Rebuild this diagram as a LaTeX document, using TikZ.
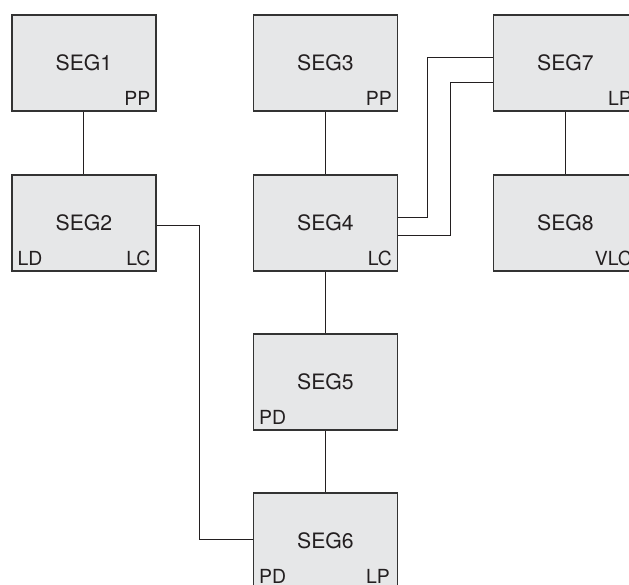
\documentclass[tikz,border=0pt]{standalone}
\usepackage{fontspec}
\setmainfont{TeX Gyre Heros}
\usetikzlibrary{calc}
\definecolor{boxfill}{HTML}{E6E7E8}
\definecolor{boxline}{HTML}{333333}
\definecolor{ink}{HTML}{231F20}
\tikzset{
  seg/.style={draw=boxline, line width=0.75pt, fill=boxfill, rectangle, inner sep=0pt,
    minimum width=72pt, minimum height=48pt, font=\fontsize{10.6}{12}\selectfont, text=ink},
  lbl/.style={inner sep=0pt, font=\fontsize{9.7}{11}\selectfont, text=ink},
  wire/.style={draw=ink, line width=0.5pt}
}
\begin{document}
\begin{tikzpicture}[x=0.5pt, y=-0.5pt]
\useasboundingbox (0,0) rectangle (629,585);
\clip (0,0) rectangle (629,585);
\node[seg] (s1) at (84,63) {SEG1};
\node[seg] (s2) at (84,223) {SEG2};
\node[seg] (s3) at (325.5,63) {SEG3};
\node[seg] (s4) at (325.5,223) {SEG4};
\node[seg] (s5) at (325.5,382) {SEG5};
\node[seg] (s6) at (325.5,541) {SEG6};
\node[seg] (s7) at (565.5,63) {SEG7};
\node[seg] (s8) at (565.5,223) {SEG8};
% corner labels
\node[lbl, anchor=base east] (s1pp) at ([shift={(-6,-6)}]s1.south east) {PP};
\node[lbl, anchor=base west] (s2ld) at ([shift={(6,-6)}]s2.south west) {LD};
\node[lbl, anchor=base east] (s2lc) at ([shift={(-6,-6)}]s2.south east) {LC};
\node[lbl, anchor=base east] (s3pp) at ([shift={(-6,-6)}]s3.south east) {PP};
\node[lbl, anchor=base east] (s4lc) at ([shift={(-6,-6)}]s4.south east) {LC};
\node[lbl, anchor=base west] (s5pd) at ([shift={(6,-6)}]s5.south west) {PD};
\node[lbl, anchor=base west] (s6pd) at ([shift={(6,-6)}]s6.south west) {PD};
\node[lbl, anchor=base east] (s6lp) at ([shift={(-8,-6)}]s6.south east) {LP};
\node[lbl, anchor=base east] (s7lp) at ([shift={(-6,-6)}]s7.south east) {LP};
\node[lbl, anchor=base east] (s8vlc) at ([shift={(-6,-6)}]s8.south east) {VLC};
% connectors
\draw[wire] (s1.south) -- (s2.north);
\draw[wire] (s3.south) -- (s4.north);
\draw[wire] (s4.south) -- (s5.north);
\draw[wire] (s5.south) -- (s6.north);
\draw[wire] (s7.south) -- (s8.north);
\draw[wire] ([shift={(0,2)}]s2.east) -- ++(43,0) |- ([shift={(0,-2)}]s6.west);
\draw[wire] ([shift={(0,-6)}]s4.east) -- ++(29,0) |- ([shift={(0,-6)}]s7.west);
\draw[wire] ([shift={(0,12)}]s4.east) -- ++(52,0) |- ([shift={(0,19)}]s7.west);
\end{tikzpicture}
\end{document}
